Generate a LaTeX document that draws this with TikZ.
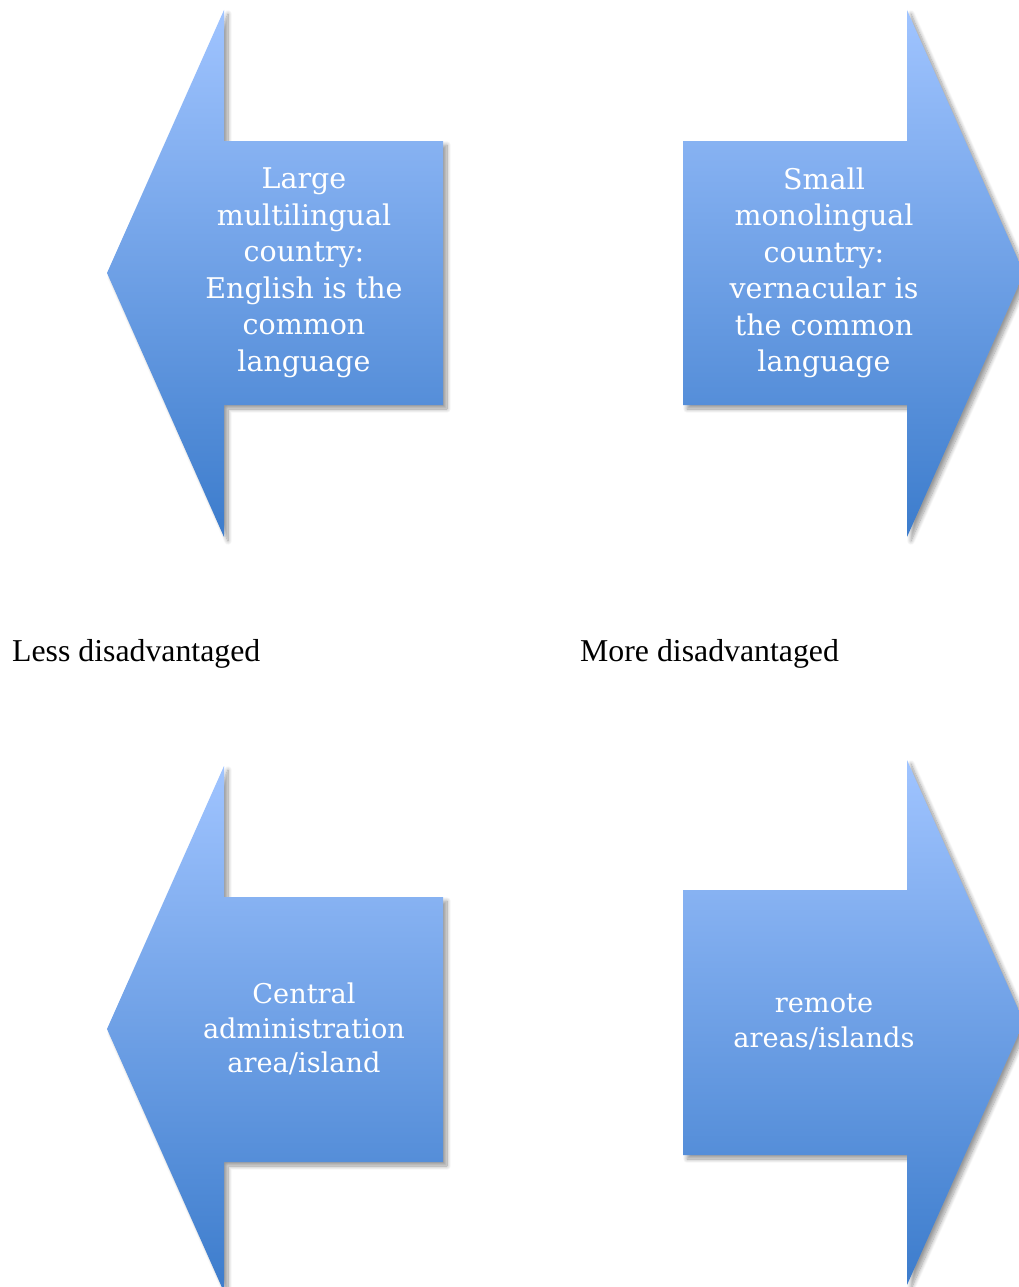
\documentclass[tikz,border=0pt]{standalone}
\usepackage{fontspec}
\setmainfont{Liberation Serif}
\newfontfamily\boxfont{DejaVu Serif}
\usetikzlibrary{shadows.blur}

\definecolor{arrowtop}{RGB}{160,196,255}
\definecolor{arrowbot}{RGB}{60,124,204}

\tikzset{
  blockarrow/.style={top color=arrowtop, bottom color=arrowbot, draw=none,
    blur shadow={shadow xshift=4pt, shadow yshift=-4pt, shadow blur radius=4pt,
      shadow blur steps=10, shadow opacity=40}},
  arrowtext/.style={text=white, align=center, font=\boxfont\fontsize{28.5}{36.5}\selectfont, inner sep=0pt},
  arrowtextsmall/.style={arrowtext, font=\boxfont\fontsize{27.2}{34.5}\selectfont},
  sidelabel/.style={text=black, anchor=base west, font=\fontsize{31.8}{36}\selectfont, inner sep=0pt}
}

\begin{document}
\begin{tikzpicture}[x=1pt, y=-1pt]
  \useasboundingbox (0,0) rectangle (1019,1287);

  % top row: left-pointing and right-pointing block arrows
  \path[blockarrow] (443,141) -- (224,141) -- (224,10) -- (107,273) -- (224,537)
     -- (224,405) -- (443,405) -- cycle;
  \path[blockarrow] (683,141) -- (907,141) -- (907,10) -- (1024,273) -- (907,537)
     -- (907,405) -- (683,405) -- cycle;

  % bottom row
  \path[blockarrow] (443,897) -- (224,897) -- (224,766) -- (107,1029) -- (224,1292)
     -- (224,1162) -- (443,1162) -- cycle;
  \path[blockarrow] (683,890) -- (907,890) -- (907,760) -- (1024,1022) -- (907,1285)
     -- (907,1155) -- (683,1155) -- cycle;

  % texts inside the arrows
  \node[arrowtext] (large) at (304,273) {Large\\multilingual\\country:\\English is the\\common\\language};
  \node[arrowtext] (small) at (824,273) {Small\\monolingual\\country:\\vernacular is\\the common\\language};
  \node[arrowtextsmall] (central) at (304,1029) {Central\\administration\\area/island};
  \node[arrowtextsmall] (remote) at (824,1022) {remote\\areas/islands};

  % side labels
  \node[sidelabel] (less) at (12,661) {Less disadvantaged};
  \node[sidelabel] (more) at (580,661) {More disadvantaged};
\end{tikzpicture}
\end{document}
